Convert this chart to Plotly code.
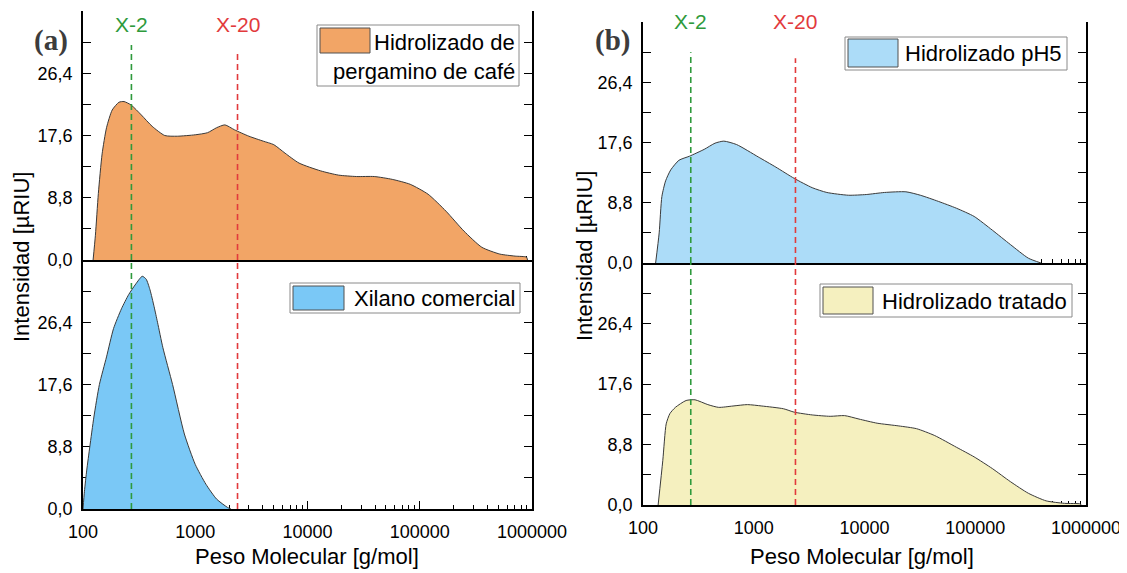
import math
import plotly.graph_objects as go

# ---------------- data ----------------
mw_pergamino = [123, 129, 137, 148, 162, 182, 209, 232, 269, 331, 413, 535, 692, 1000, 1288,
                1549, 1837, 2239, 3006, 4036, 5012, 6310, 8414, 13092, 18880, 27290, 39360,
                56890, 82220, 118600, 171400, 247200, 357300, 516400, 708000, 895000, 912000]
int_pergamino = [0.0, 3.5, 9.4, 15.0, 18.7, 21.2, 22.3, 22.4, 21.9, 20.5, 18.9, 17.6, 17.5, 17.7, 18.0,
                 18.7, 19.1, 18.4, 17.5, 16.8, 16.3, 15.1, 13.7, 12.6, 12.0, 11.8, 11.8,
                 11.4, 10.7, 9.3, 6.9, 4.1, 1.8, 0.84, 0.55, 0.4, 0.0]

mw_xilano = [100, 103, 108, 115, 125, 140, 162, 187, 220, 255, 295, 337, 365, 395, 430, 461, 515,
             628, 800, 1000, 1245, 1550, 1935, 2080]
int_xilano = [0.0, 2.5, 5.5, 8.8, 13.0, 17.6, 21.5, 25.5, 28.3, 30.3, 31.8, 32.9, 32.5, 31.0, 28.6, 26.4,
              22.8, 17.6, 10.6, 6.3, 3.5, 1.4, 0.23, 0.0]

mw_ph5 = [130, 140, 148, 160, 178, 211, 263, 357, 447, 537, 700, 1096, 1585, 2323, 3373, 4571,
          7145, 10370, 15140, 23660, 31920, 46450, 67610, 97720, 142600, 207500, 302000, 392000]
int_ph5 = [0.0, 4.4, 9.7, 12.0, 13.6, 15.0, 15.6, 16.6, 17.5, 17.8, 17.3, 15.5, 14.0, 12.35, 11.0, 10.3,
           9.9, 10.0, 10.3, 10.4, 9.9, 9.0, 8.0, 6.8, 4.8, 2.7, 0.7, 0.0]

mw_tratado = [137, 151, 162, 175, 196, 245, 295, 385, 482, 650, 877, 1183, 1854, 2323, 3373, 4898,
              6607, 8913, 13000, 20420, 29510, 43050, 67610, 97720, 142600, 207500, 302000,
              436500, 638300, 891000, 900000]
int_tratado = [0.0, 6.5, 11.8, 13.3, 14.2, 15.2, 15.3, 14.6, 14.2, 14.4, 14.6, 14.4, 14.0, 13.5, 13.1, 12.9,
               13.0, 12.5, 11.9, 11.5, 11.1, 10.1, 8.4, 7.0, 5.3, 3.4, 1.7,
               0.6, 0.24, 0.15, 0.0]

series_names = ["Hidrolizado de pergamino de café", "Xilano comercial",
                "Hidrolizado pH5", "Hidrolizado tratado"]

marker_names = ["X-2", "X-20"]
marker_mw = [270, 2380]

y_tickvals = [0, 8.8, 17.6, 26.4]
y_ticktext = ["0,0", "8,8", "17,6", "26,4"]
y_minor_vals = [4.4, 13.2, 22.0, 30.8]
y_max = 35.2
x_tickvals = [100, 1000, 10000, 100000, 1000000]
x_ticktext = ["100", "1000", "10000", "100000", "1000000"]

# ---------------- styling ----------------
PAGE_W, PAGE_H = 1127, 573
OFF = 8  # default page body margin
W, H = PAGE_W - OFF, PAGE_H - OFF
FONT = "Liberation Sans, Arial, sans-serif"
C_ORANGE = "#f2a566"
C_BLUE = "#7ac8f6"
C_LBLUE = "#acdcf8"
C_YELLOW = "#f5f0bf"
C_OUT = "#3a3a3a"
C_GREEN = "#2e9a3c"
C_RED = "#e23a3c"
marker_colors = [C_GREEN, C_RED]

minor_x = [m * 10 ** e for e in range(2, 6) for m in range(2, 10)]


def px(x):
    return (x - OFF) / W


def py(y):
    return 1 - (y - OFF) / H


# panel geometry (page pixels)
LX = [83, 532]
RX = [643, 1086]
L_TOP = [260, 11]
L_BOT = [509, 260]
R_TOP = [263, 22]
R_BOT = [505, 263]

fig = go.Figure()


def add_area(x, y, color, xa, ya, name):
    fig.add_trace(go.Scatter(
        x=x, y=y, mode="lines", fill="tozeroy", fillcolor=color,
        line=dict(color=C_OUT, width=1, shape="spline", smoothing=0.6),
        xaxis=xa, yaxis=ya, name=name, showlegend=False, hoverinfo="skip"))


add_area(mw_pergamino, int_pergamino, C_ORANGE, "x", "y", series_names[0])
add_area(mw_xilano, int_xilano, C_BLUE, "x2", "y2", series_names[1])
add_area(mw_ph5, int_ph5, C_LBLUE, "x3", "y3", series_names[2])
add_area(mw_tratado, int_tratado, C_YELLOW, "x4", "y4", series_names[3])

# dashed reference lines (drawn in both panels of each column)
top_ends = {("x", 0): 30.4, ("x", 1): 29.6, ("x3", 0): 30.8, ("x3", 1): 29.9}
for i, (mw, col) in enumerate(zip(marker_mw, marker_colors)):
    for xa_top, ya_top, xa_bot, ya_bot in [("x", "y", "x2", "y2"), ("x3", "y3", "x4", "y4")]:
        fig.add_trace(go.Scatter(x=[mw, mw], y=[0, top_ends[(xa_top, i)]], mode="lines",
                                 line=dict(color=col, width=1.6, dash="6px,4px"),
                                 xaxis=xa_top, yaxis=ya_top, showlegend=False, hoverinfo="skip"))
        fig.add_trace(go.Scatter(x=[mw, mw], y=[0, y_max], mode="lines",
                                 line=dict(color=col, width=1.6, dash="6px,4px"),
                                 xaxis=xa_bot, yaxis=ya_bot, showlegend=False, hoverinfo="skip"))


def xax(xdom, anchor, labels):
    return dict(type="log", range=[2, 6], domain=[px(xdom[0]), px(xdom[1])], anchor=anchor,
                automargin=False,
                showline=True, linecolor="black", linewidth=1.6,
                ticks="inside", ticklen=8, tickwidth=1.4, tickcolor="black",
                tickmode="array", tickvals=x_tickvals, ticktext=x_ticktext,
                showticklabels=labels, ticklabelstandoff=6,
                minor=dict(tickmode="array", tickvals=minor_x, ticks="inside", ticklen=4,
                           tickwidth=1.2, tickcolor="black", showgrid=False),
                showgrid=False, zeroline=False, layer="below traces",
                tickfont=dict(family=FONT, size=18, color="black"))


def yax(ydom, anchor):
    return dict(range=[0, y_max], domain=[py(ydom[0]), py(ydom[1])], anchor=anchor,
                automargin=False,
                showline=True, linecolor="black", linewidth=1.6, mirror="ticks",
                ticks="inside", ticklen=8, tickwidth=1.4, tickcolor="black",
                tickmode="array", tickvals=y_tickvals, ticktext=y_ticktext,
                ticklabelstandoff=5,
                minor=dict(tickmode="array", tickvals=y_minor_vals, ticks="inside", ticklen=8,
                           tickwidth=1.4, tickcolor="black", showgrid=False),
                showgrid=False, zeroline=False, layer="below traces",
                tickfont=dict(family=FONT, size=18, color="black"))


fig.update_layout(
    template="none",
    width=W, height=H, margin=dict(l=0, r=0, t=0, b=0, pad=0),
    paper_bgcolor="white", plot_bgcolor="white", showlegend=False,
    font=dict(family=FONT, color="black"),
    xaxis=xax(LX, "y", False), yaxis=yax(L_TOP, "x"),
    xaxis2=xax(LX, "y2", True), yaxis2=yax(L_BOT, "x2"),
    xaxis3=xax(RX, "y3", False), yaxis3=yax(R_TOP, "x3"),
    xaxis4=xax(RX, "y4", True), yaxis4=yax(R_BOT, "x4"),
)

ann = []
shapes = []

# axis titles
for cx in [307, 862]:
    ann.append(dict(text="Peso Molecular [g/mol]", x=px(cx), y=py(556), xref="paper", yref="paper",
                    showarrow=False, xanchor="center", yanchor="middle",
                    font=dict(family=FONT, size=22, color="black")))
for cx, cy in [(21, 257), (584, 256)]:
    ann.append(dict(text="Intensidad [µRIU]", x=px(cx), y=py(cy), xref="paper", yref="paper",
                    showarrow=False, textangle=-90, xanchor="center", yanchor="middle",
                    font=dict(family=FONT, size=22, color="black")))

# panel letters
for t, cx, cy in [("(a)", 51, 40), ("(b)", 612, 41)]:
    ann.append(dict(text="<b>%s</b>" % t, x=px(cx), y=py(cy), xref="paper", yref="paper",
                    showarrow=False, xanchor="center", yanchor="middle",
                    font=dict(family="Liberation Serif, Times New Roman, serif", size=29, color="#3c3c3c")))

# reference-line labels
for xa, ylab in [("x", 25), ("x3", 22)]:
    for name, mw, col in zip(marker_names, marker_mw, marker_colors):
        ann.append(dict(text=name, x=math.log10(mw), y=py(ylab), xref=xa, yref="paper",
                        showarrow=False, xanchor="center", yanchor="middle",
                        font=dict(family=FONT, size=21, color=col)))


# legends drawn as boxes
def legend(box, sw, color, lines):
    shapes.append(dict(type="rect", xref="paper", yref="paper",
                       x0=px(box[0]), x1=px(box[2]), y0=py(box[3]), y1=py(box[1]),
                       line=dict(color="#8a8a8a", width=1), fillcolor="white", layer="above"))
    shapes.append(dict(type="rect", xref="paper", yref="paper",
                       x0=px(sw[0]), x1=px(sw[2]), y0=py(sw[3]), y1=py(sw[1]),
                       line=dict(color="#505050", width=1), fillcolor=color, layer="above"))
    for text, xr, yc in lines:
        ann.append(dict(text=text, x=px(xr), y=py(yc), xref="paper", yref="paper",
                        showarrow=False, xanchor="right", yanchor="middle",
                        font=dict(family=FONT, size=22, color="black")))


legend((317, 25, 519, 86), (320, 28, 370, 53), C_ORANGE,
       [("Hidrolizado de", 517, 42), ("pergamino de café", 517, 71)])
legend((290, 283, 520, 313), (293, 286, 344, 310), C_BLUE,
       [("Xilano comercial", 517, 298)])
legend((845, 37, 1067, 70), (848, 39, 898, 67), C_LBLUE,
       [("Hidrolizado pH5", 1064, 54)])
legend((820, 284, 1072, 317), (823, 287, 873, 314), C_YELLOW,
       [("Hidrolizado tratado", 1069, 301)])

fig.update_layout(annotations=ann, shapes=shapes)

fig.write_html("out.html")
